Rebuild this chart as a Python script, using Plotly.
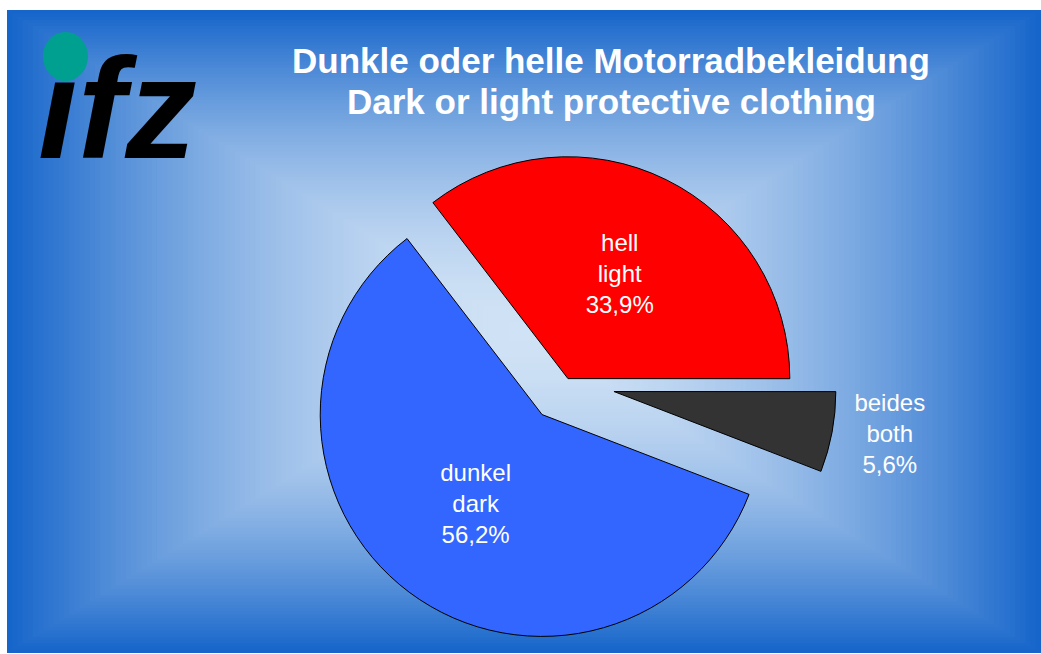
import plotly.graph_objects as go

# ---- data ----
labels_de = ["hell", "beides", "dunkel"]
labels_en = ["light", "both", "dark"]
values = [33.9, 5.6, 56.2]
colors = ["#FF0000", "#333333", "#3366FF"]
pulls = [0.02, 0.22, 0.18]
text_pos = ["inside", "outside", "inside"]
title_lines = ["Dunkle oder helle Motorradbekleidung", "Dark or light protective clothing"]

W, H = 1041, 654
FONT = "Liberation Sans, Arial, sans-serif"

texts = [f"{de}<br>{en}<br>{str(v).replace('.', ',')}%" for de, en, v in zip(labels_de, labels_en, values)]

fig = go.Figure()
fig.add_trace(go.Pie(
    labels=labels_en,
    values=values,
    text=texts,
    textinfo="text",
    hoverinfo="label+percent",
    textposition=text_pos,
    insidetextorientation="horizontal",
    sort=False,
    direction="clockwise",
    rotation=-37.5,
    pull=pulls,
    automargin=False,
    marker=dict(colors=colors, line=dict(color="black", width=1)),
    textfont=dict(family=FONT, size=24, color="white"),
    insidetextfont=dict(family=FONT, size=24, color="white"),
    outsidetextfont=dict(family=FONT, size=24, color="white"),
    domain=dict(x=[0.2837, 0.8037], y=[0.0, 0.83]),
    showlegend=False,
))

# ---- background: rectangular "from centre" gradient ----
x0p, x1p, y0p, y1p = 7, 1041, 10, 653
cx, cy = (x0p + x1p) / 2, (y0p + y1p) / 2
hw, hh = (x1p - x0p) / 2, (y1p - y0p) / 2
light = (208, 226, 245)
dark = (20, 100, 202)
N = 100
shapes = []
for k in range(N):
    t = 1 - k / N
    tc = max(t - 0.5 / N, 0)
    f = tc ** 1.75
    col = tuple(round(light[i] + (dark[i] - light[i]) * f) for i in range(3))
    shapes.append(dict(
        type="rect", xref="paper", yref="paper", layer="below",
        x0=(cx - t * hw) / W, x1=(cx + t * hw) / W,
        y0=1 - (cy + t * hh) / H, y1=1 - (cy - t * hh) / H,
        fillcolor=f"rgb{col}", line=dict(width=0),
    ))
# teal dot of the logo
shapes.append(dict(type="circle", xref="paper", yref="paper", layer="above",
                   x0=43 / W, x1=88 / W, y0=1 - 81 / H, y1=1 - 32 / H,
                   fillcolor="#00A090", line=dict(width=0)))

annotations = [
    dict(text=title_lines[0], x=611 / W, y=1 - 39 / H, xref="paper", yref="paper",
         xanchor="center", yanchor="top", showarrow=False,
         font=dict(family=FONT, size=35, color="white", weight="bold")),
    dict(text=title_lines[1], x=611 / W, y=1 - 80 / H, xref="paper", yref="paper",
         xanchor="center", yanchor="top", showarrow=False,
         font=dict(family=FONT, size=35, color="white", weight="bold")),
    dict(text="\u0131fz", x=36 / W, y=1 - 27 / H, xref="paper", yref="paper",
         xanchor="left", yanchor="top", showarrow=False,
         font=dict(family=FONT, size=143, color="black", weight="bold", style="italic")),
]

fig.update_layout(
    width=W, height=H,
    margin=dict(l=0, r=0, t=0, b=0, pad=0, autoexpand=False),
    showlegend=False,
    paper_bgcolor="white",
    plot_bgcolor="white",
    shapes=shapes,
    annotations=annotations,
)

fig.write_html("out.html")
